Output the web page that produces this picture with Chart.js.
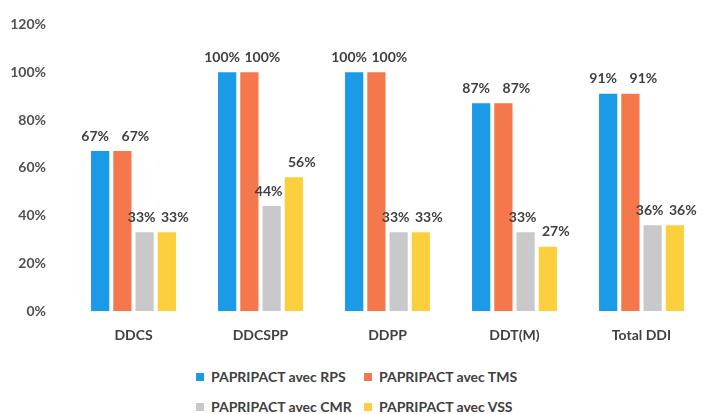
<!DOCTYPE html>
<html>
<head>
<meta charset="utf-8">
<script src="https://cdn.jsdelivr.net/npm/chart.js@4"></script>
<style>
  body { margin:0; background:#fff; font-family: Lato, "Open Sans", sans-serif; }
  #wrap { width:715px; height:352px; position:relative; }
  #legende { width:715px; display:grid; grid-template-columns: 168px 200px; padding-left:196px; box-sizing:border-box; row-gap:13px; margin-top:16px; }
  .item { display:flex; align-items:center; font-size:14px; font-weight:700; color:#404040; white-space:nowrap; }
  .box { width:8px; height:8px; margin-right:7px; }
</style>
</head>
<body>
<div id="wrap"><canvas id="graficoPapripact"></canvas></div>
<div id="legende"></div>
<script>
let categories = ["DDCS", "DDCSPP", "DDPP", "DDT(M)", "Total DDI"]
let series = ["PAPRIPACT avec RPS", "PAPRIPACT avec TMS", "PAPRIPACT avec CMR", "PAPRIPACT avec VSS"]
let rps = [67, 100, 100, 87, 91]
let tms = [67, 100, 100, 87, 91]
let cmr = [33, 44, 33, 33, 36]
let vss = [33, 56, 33, 27, 36]
let yTicks = [0, 20, 40, 60, 80, 100, 120]

let couleurs = ["#1b9ae8", "#f5774c", "#c9c9cb", "#fcd03c"]
let valeurs = [rps, tms, cmr, vss]

// decalage horizontal des etiquettes pour ne pas se chevaucher
let decalage = [-5, 13, -3, 8]

let etiquettes = {
  id: "etiquettes",
  afterDatasetsDraw(chart) {
    let ctx = chart.ctx
    ctx.save()
    ctx.font = "700 14px Lato, 'Open Sans', sans-serif"
    ctx.fillStyle = "#404040"
    ctx.textAlign = "center"
    ctx.textBaseline = "bottom"
    chart.data.datasets.forEach((ds, i) => {
      chart.getDatasetMeta(i).data.forEach((bar, j) => {
        ctx.fillText(ds.data[j] + "%", bar.x + decalage[i], bar.y - 8)
      })
    })
    ctx.restore()
  }
}

let grafico = new Chart(document.getElementById("graficoPapripact"), {
  type: 'bar',
  data: {
    labels: categories,
    datasets: series.map((nom, i) => ({
      label: nom,
      data: valeurs[i],
      backgroundColor: couleurs[i],
      categoryPercentage: 0.7,
      barPercentage: 0.82
    }))
  },
  options: {
    responsive: true,
    maintainAspectRatio: false,
    animation: false,
    layout: { padding: { top: 20, right: 10, left: 4, bottom: 0 } },
    plugins: {
      legend: { display: false },
      tooltip: { enabled: false }
    },
    scales: {
      x: {
        grid: { display: false },
        border: { display: false },
        ticks: { color: '#404040', font: { family: "Lato, 'Open Sans', sans-serif", size: 14, weight: '700' }, padding: 8 }
      },
      y: {
        min: yTicks[0],
        max: yTicks[yTicks.length - 1],
        afterBuildTicks: axis => { axis.ticks = yTicks.map(v => ({ value: v })) },
        afterFit: axis => { axis.width = 66 },
        grid: { display: false },
        border: { display: false },
        ticks: {
          color: '#505050',
          font: { family: "Lato, 'Open Sans', sans-serif", size: 14, weight: '700' },
          padding: 16,
          callback: v => v + '%'
        }
      }
    }
  },
  plugins: [etiquettes]
})

let legende = document.getElementById("legende")
series.forEach((nom, i) => {
  let item = document.createElement("div")
  item.className = "item"
  item.innerHTML = `<span class="box" style="background:${couleurs[i]}"></span>${nom}`
  legende.appendChild(item)
})
</script>
</body>
</html>
